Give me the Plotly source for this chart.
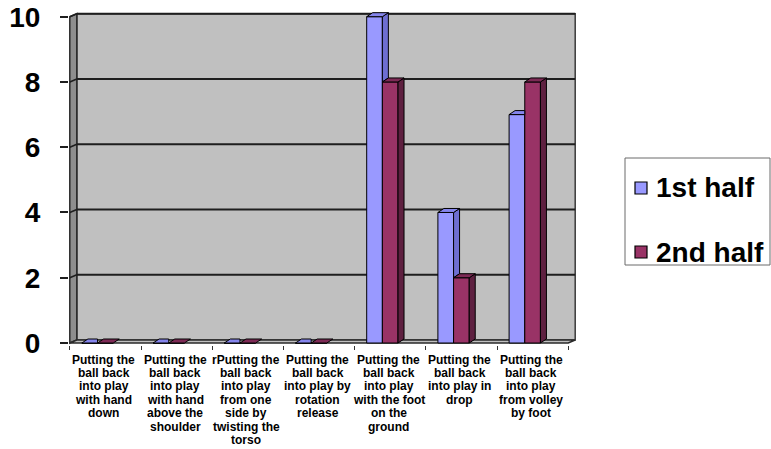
import plotly.graph_objects as go

# ---- data -------------------------------------------------------------
categories = [
    "Putting the<br>ball back<br>into play<br>with hand<br>down",
    "Putting the<br>ball back<br>into play<br>with hand<br>above the<br>shoulder",
    "rPutting the<br>ball back<br>into play<br>from one<br>side by<br>twisting the<br>torso",
    "Putting the<br>ball back<br>into play by<br>rotation<br>release",
    "Putting the<br>ball back<br>into play<br>with the foot<br>on the<br>ground",
    "Putting the<br>ball back<br>into play in<br>drop",
    "Putting the<br>ball back<br>into play<br>from volley<br>by foot",
]
first_half = [0, 0, 0, 0, 10, 4, 7]
second_half = [0, 0, 0, 0, 8, 2, 8]
series_names = ["1st half", "2nd half"]
y_ticks = [0, 2, 4, 6, 8, 10]

# ---- page geometry (pixels) -------------------------------------------
W, H = 771, 449
L, R, T, B = 69, 577, 10, 345          # plot area
CAT_PX = 71.2                            # width of one category
X0_PX = 69.8                             # left front edge of first category
Y0_PX = 343.0                            # baseline (value 0) on front plane
UNIT_PX = 32.63                          # pixels per value unit

xr0 = -0.5 - (X0_PX - L) / CAT_PX
xr1 = xr0 + (R - L) / CAT_PX
yr0 = -(B - Y0_PX) / UNIT_PX
yr1 = yr0 + (B - T) / UNIT_PX


def px_x(p):
    return (p - L) / (R - L)


def px_y(p):
    return (B - p) / (B - T)


n = len(categories)
xs = list(range(n))

# depth offsets for the pseudo-3D look (in data units)
WDX, WDY = 7 / CAT_PX, 3 / UNIT_PX     # walls
BDX, BDY = 6 / CAT_PX, 4 / UNIT_PX     # bars

BAR_W = 0.22
OFF1, OFF2 = -0.33, -0.11

C1, C1_SIDE, C1_TOP = "#9999FF", "#6E6ED2", "#8585EC"
C2, C2_SIDE, C2_TOP = "#993366", "#5E2040", "#7D2A55"

FONT = "Liberation Sans, Arial, sans-serif"

fig = go.Figure()

fig.add_trace(go.Bar(
    x=xs, y=first_half, name=series_names[0], width=BAR_W, offset=OFF1,
    marker=dict(color=C1, line=dict(color="black", width=1)),
))
fig.add_trace(go.Bar(
    x=xs, y=second_half, name=series_names[1], width=BAR_W, offset=OFF2,
    marker=dict(color=C2, line=dict(color="black", width=1)),
))


def polys_trace(polys, color):
    px, py = [], []
    for poly in polys:
        for (a, b) in poly + [poly[0]]:
            px.append(a)
            py.append(b)
        px.append(None)
        py.append(None)
    return go.Scatter(
        x=px, y=py, mode="lines", fill="toself", fillcolor=color,
        line=dict(color="black", width=1), hoverinfo="skip", showlegend=False,
    )


# faces of the first series (partly hidden behind the second series)
side1, top1 = [], []
for i, (v1, v2) in enumerate(zip(first_half, second_half)):
    x0 = i + OFF1
    x1 = x0 + BAR_W
    if v2 >= v1:
        top1.append([(x0, v1), (x1, v1), (x1, v1 + BDY), (x0 + BDX, v1 + BDY)])
    else:
        top1.append([(x0, v1), (x1, v1), (x1 + BDX, v1 + BDY), (x0 + BDX, v1 + BDY)])
        side1.append([(x1, v2), (x1, v1), (x1 + BDX, v1 + BDY), (x1 + BDX, v2 + BDY)])

side2, top2 = [], []
for i, v in enumerate(second_half):
    x0 = i + OFF2
    x1 = x0 + BAR_W
    top2.append([(x0, v), (x1, v), (x1 + BDX, v + BDY), (x0 + BDX, v + BDY)])
    if v > 0:
        side2.append([(x1, 0), (x1, v), (x1 + BDX, v + BDY), (x1 + BDX, BDY)])

fig.add_trace(polys_trace(side1, C1_SIDE))
fig.add_trace(polys_trace(top1, C1_TOP))
fig.add_trace(polys_trace(side2, C2_SIDE))
fig.add_trace(polys_trace(top2, C2_TOP))

# ---- walls, floor and gridlines -----------------------------------------
xl, xr = -0.5, n - 0.5
ytop = max(y_ticks)
shapes = []


def path(points):
    return "M " + " L ".join(f"{a},{b}" for a, b in points) + " Z"


# back wall
shapes.append(dict(type="rect", xref="x", yref="y", layer="below",
                   x0=xl + WDX, x1=xr + WDX, y0=WDY, y1=ytop + WDY,
                   fillcolor="#C0C0C0", line=dict(color="#3A3A3A", width=1.5)))
# left side wall
shapes.append(dict(type="path", xref="x", yref="y", layer="below",
                   path=path([(xl, 0), (xl, ytop), (xl + WDX, ytop + WDY), (xl + WDX, WDY)]),
                   fillcolor="#8E8E8E", line=dict(color="#2A2A2A", width=1.5)))
# floor
shapes.append(dict(type="path", xref="x", yref="y", layer="below",
                   path=path([(xl, 0), (xr, 0), (xr + WDX, WDY), (xl + WDX, WDY)]),
                   fillcolor="#C0C0C0", line=dict(color="#2A2A2A", width=1.5)))
# gridlines on the back wall and the side wall
for v in y_ticks[1:]:
    shapes.append(dict(type="line", xref="x", yref="y", layer="below",
                       x0=xl + WDX, x1=xr + WDX, y0=v + WDY, y1=v + WDY,
                       line=dict(color="#1E1E1E", width=2)))
    shapes.append(dict(type="line", xref="x", yref="y", layer="below",
                       x0=xl, x1=xl + WDX, y0=v, y1=v + WDY,
                       line=dict(color="#1E1E1E", width=1.5)))

# ---- legend box (drawn beside the plot) ---------------------------------
shapes.append(dict(type="rect", xref="paper", yref="paper",
                   x0=px_x(625), x1=px_x(770), y0=px_y(265), y1=px_y(158),
                   fillcolor="white", line=dict(color="#6A6A6A", width=1)))
legend_rows = [188, 252]
annotations = []
for name, color, row in zip(series_names, [C1, C2], legend_rows):
    shapes.append(dict(type="rect", xref="paper", yref="paper",
                       x0=px_x(635), x1=px_x(647), y0=px_y(row + 6), y1=px_y(row - 6),
                       fillcolor=color, line=dict(color="black", width=1.2)))
    annotations.append(dict(
        x=px_x(654), xref="paper", y=px_y(row), yref="paper",
        text=name, showarrow=False, xanchor="left", yanchor="middle",
        font=dict(family=FONT, size=28, color="black", weight="bold"),
    ))

# ---- category labels, one annotation per line ---------------------------
LINE_PX = 13.4
FIRST_LINE_PX = 359.5
for i, label in enumerate(categories):
    for k, line in enumerate(label.split("<br>")):
        annotations.append(dict(
            x=i, xref="x", y=px_y(FIRST_LINE_PX + k * LINE_PX), yref="paper",
            text=line, showarrow=False, xanchor="center", yanchor="middle",
            xshift=-1.5,
            font=dict(family=FONT, size=12, color="black", weight="bold"),
        ))

fig.update_layout(
    width=W, height=H,
    margin=dict(l=L, r=W - R, t=T, b=H - B, pad=0, autoexpand=False),
    paper_bgcolor="white", plot_bgcolor="white",
    barmode="overlay",
    shapes=shapes,
    annotations=annotations,
    showlegend=False,
    xaxis=dict(
        range=[xr0, xr1], showgrid=False, zeroline=False, showline=False,
        tickmode="array", tickvals=[i - 0.5 for i in range(n + 1)],
        showticklabels=False, ticks="outside", ticklen=4, tickcolor="#333",
        tickwidth=1, fixedrange=True, automargin=False,
    ),
    yaxis=dict(
        range=[yr0, yr1], showgrid=False, zeroline=False, showline=False,
        tickmode="array", tickvals=y_ticks, ticktext=[str(t) for t in y_ticks],
        ticks="outside", ticklen=8, tickcolor="#1E1E1E", tickwidth=1.5,
        ticklabelstandoff=14, automargin=False,
        tickfont=dict(family=FONT, size=28, color="black", weight="bold"),
        fixedrange=True,
    ),
)

fig.write_html("out.html")
